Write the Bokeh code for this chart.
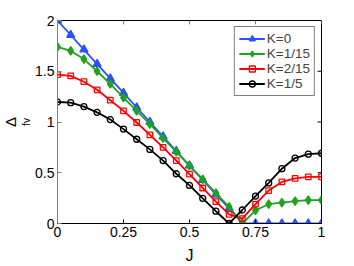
from bokeh.plotting import figure
from bokeh.models import FixedTicker, Range1d, Legend, Title
from bokeh.embed import file_html
from bokeh.resources import INLINE

J = [0.0, 0.05, 0.1, 0.15, 0.2, 0.25, 0.3, 0.35, 0.4, 0.45, 0.5,
     0.55, 0.6, 0.65, 0.7, 0.75, 0.8, 0.85, 0.9, 0.95, 1.0]
K0 = [2.0, 1.857, 1.714, 1.571, 1.429, 1.286, 1.143, 1.0, 0.857, 0.714, 0.571,
      0.429, 0.286, 0.15, 0.0, 0.0, 0.0, 0.0, 0.0, 0.0, 0.0]
K1_15 = [1.74, 1.70, 1.62, 1.50, 1.375, 1.24, 1.11, 0.98, 0.84, 0.705, 0.57,
         0.435, 0.30, 0.165, 0.0, 0.13, 0.19, 0.205, 0.22, 0.23, 0.23]
K2_15 = [1.467, 1.455, 1.397, 1.317, 1.215, 1.11, 0.995, 0.873, 0.75, 0.62, 0.486,
         0.35, 0.216, 0.089, 0.048, 0.19, 0.324, 0.41, 0.444, 0.46, 0.46]
K1_5 = [1.197, 1.19, 1.152, 1.095, 1.024, 0.93, 0.83, 0.73, 0.62, 0.49, 0.375,
        0.248, 0.121, 0.0, 0.133, 0.27, 0.40, 0.54, 0.645, 0.683, 0.692]
labels = ["K=0", "K=1/15", "K=2/15", "K=1/5"]
x_ticks = [0, 0.25, 0.5, 0.75, 1]
x_tick_labels = ["0", "0.25", "0.5", "0.75", "1"]
y_ticks = [0, 0.5, 1, 1.5, 2]
y_tick_labels = ["0", "0.5", "1", "1.5", "2"]

FONT = "Liberation Sans"
X0, X1, Y0, Y1 = 0, 1, 0, 2
FW, FH = 267, 210

p = figure(width=354, height=266,
           min_border_left=54, min_border_right=33, min_border_top=20, min_border_bottom=36,
           x_range=Range1d(X0, X1), y_range=Range1d(Y0, Y1),
           output_backend="svg", toolbar_location=None)
p.grid.visible = False
p.outline_line_color = "black"
p.background_fill_color = "white"
p.border_fill_color = "white"

def style_axis(ax, ticks, tick_labels, color):
    ax.ticker = FixedTicker(ticks=ticks)
    ax.major_label_overrides = {t: l for t, l in zip(ticks, tick_labels)}
    ax.major_tick_in = 4
    ax.major_tick_out = 0
    ax.minor_tick_line_color = None
    ax.axis_line_color = color
    ax.major_tick_line_color = color
    ax.major_label_text_font = FONT
    ax.major_label_text_font_size = "14px"
    ax.major_label_text_color = "black"
    ax.major_label_standoff = 3

style_axis(p.xaxis[0], x_ticks, x_tick_labels, "black")
style_axis(p.yaxis[0], y_ticks, y_tick_labels, "#808080")
p.xaxis.axis_label = "J"
p.xaxis.axis_label_text_font = FONT
p.xaxis.axis_label_text_font_size = "16px"
p.xaxis.axis_label_text_font_style = "normal"
p.xaxis.axis_label_text_color = "black"
p.xaxis.axis_label_standoff = 7

# y-axis label "Δ" with subscript "fv", as two side titles
t_fv = Title(text="fv", align="center", offset=-6, standoff=0, vertical_align="middle",
             text_font=FONT, text_font_size="10px", text_font_style="normal",
             text_color="black")
t_delta = Title(text="Δ", align="center", offset=5, standoff=0, vertical_align="middle",
                text_font=FONT, text_font_size="15px", text_font_style="normal",
                text_color="black")
p.add_layout(t_fv, "left")
p.add_layout(t_delta, "left")

# inward ticks on top and right edges (mirroring the tick arrays)
tick_dx = 4 * (X1 - X0) / FW
tick_dy = 4 * (Y1 - Y0) / FH
p.segment(x0=x_ticks, y0=[Y1] * len(x_ticks), x1=x_ticks, y1=[Y1 - tick_dy] * len(x_ticks),
          line_color="#808080", line_width=1)
p.segment(x0=[X1] * len(y_ticks), y0=y_ticks, x1=[X1 - tick_dx] * len(y_ticks), y1=y_ticks,
          line_color="black", line_width=1)

series = [
    (K0, "#2b50ff", "triangle", 8, "#2b50ff"),
    (K1_15, "#1fa31f", "diamond", 8.5, "#1fa31f"),
    (K2_15, "#ff0000", "square", 5.5, None),
    (K1_5, "black", "circle", 6, None),
]
items = []
for (vals, color, marker, size, fill), lab in zip(series, labels):
    r1 = p.line(J, vals, line_color=color, line_width=1.8)
    r2 = p.scatter(J, vals, marker=marker, size=size, line_color=color, line_width=1.3,
                   fill_color=fill)
    items.append((lab, [r1, r2]))

legend = Legend(items=items, location="top_right")
legend.margin = 6
legend.padding = 4
legend.spacing = 0
legend.glyph_width = 26
legend.glyph_height = 15
legend.label_height = 15
legend.label_standoff = 2
legend.label_text_font = FONT
legend.label_text_font_size = "13.5px"
legend.label_text_baseline = "middle"
legend.border_line_color = "black"
legend.border_line_width = 1
legend.background_fill_alpha = 1
p.add_layout(legend, "center")

open("out.html", "w").write(file_html(p, INLINE))
